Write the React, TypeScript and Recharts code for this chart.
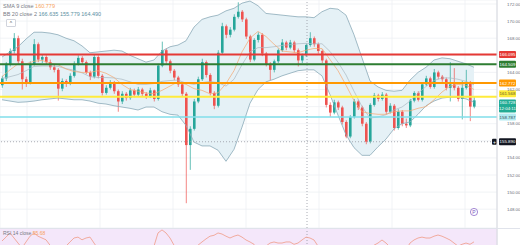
import React from "react";
import {
  Area,
  Bar,
  CartesianGrid,
  ComposedChart,
  Line,
  ReferenceArea,
  ReferenceLine,
  XAxis,
  YAxis,
} from "recharts";

const GREEN = "#26a69a";
const RED = "#ef5350";
const BAND = "#8aaab8";

// candles, one every bar index
const opens = [
  162.5, 163.3, 165.0, 166.5, 168.0, 165.3, 163.2, 162.8, 165.0, 167.3,
  165.5, 165.8, 165.2, 164.6, 164.3, 162.1, 163.0, 162.7, 163.6, 165.0,
  165.7, 165.2, 164.0, 163.5, 165.8, 163.6, 161.6, 162.2, 162.8, 161.8,
  160.6, 161.5, 161.0, 161.9, 161.4, 162.0, 161.5, 161.2, 161.9, 160.9,
  164.8, 166.6, 165.3, 164.2, 163.4, 162.6, 161.5, 155.5, 157.4, 160.6,
  163.2, 165.2, 163.7, 161.6, 160.1, 166.3, 169.4, 168.4, 169.0, 170.5,
  171.1, 170.2, 168.2, 165.5, 167.8, 168.4, 166.2, 165.0, 164.3, 165.3,
  166.6, 167.5, 166.9, 167.5, 166.6, 165.4, 166.0, 167.2, 168.0, 167.3,
  166.5, 165.4, 160.2, 159.3, 160.5, 159.9, 158.2, 156.5, 158.8, 160.6,
  159.9, 158.0, 155.9, 160.2, 161.3, 160.9, 161.4, 159.4, 160.1, 157.5,
  159.4, 158.0, 157.8, 160.7, 161.6, 160.8, 162.6, 163.3, 162.3, 164.0,
  163.5, 163.2, 162.2, 162.6, 162.2, 160.9, 162.2, 162.8, 160.0,
];
const highs = [
  163.6, 165.2, 166.8, 168.6, 168.3, 165.6, 163.5, 165.3, 167.9, 167.5,
  166.1, 166.0, 165.5, 164.9, 164.5, 163.3, 163.2, 163.9, 165.3, 166.0,
  165.9, 165.4, 164.2, 166.1, 166.0, 163.8, 162.5, 163.1, 163.0, 162.0,
  161.8, 161.7, 162.2, 162.1, 162.3, 162.2, 161.7, 162.2, 162.0, 165.0,
  167.6, 166.8, 165.5, 164.4, 163.6, 162.8, 161.7, 157.7, 160.9, 163.5,
  165.6, 165.4, 163.9, 161.8, 166.6, 169.8, 169.6, 169.3, 170.8, 172.2,
  171.3, 170.4, 168.4, 168.0, 168.7, 168.6, 166.4, 165.2, 165.5, 166.8,
  167.9, 167.7, 167.8, 167.7, 166.8, 166.2, 167.4, 168.7, 168.2, 167.5,
  166.7, 165.6, 160.5, 160.8, 160.7, 160.1, 158.4, 159.0, 160.9, 160.8,
  160.1, 158.2, 160.4, 161.6, 161.5, 161.7, 161.6, 160.4, 160.3, 159.7,
  159.6, 158.6, 160.9, 161.8, 161.8, 162.8, 163.6, 163.5, 164.4, 164.2,
  163.7, 163.4, 165.2, 164.5, 162.4, 163.0, 164.3, 163.0, 161.2,
];
const lows = [
  162.2, 163.0, 164.7, 166.2, 165.0, 162.0, 162.3, 162.6, 164.8, 165.2,
  165.1, 164.9, 164.3, 164.0, 160.7, 161.8, 162.3, 162.5, 163.4, 164.8,
  164.9, 163.8, 163.1, 163.3, 163.3, 161.3, 161.4, 162.0, 161.5, 159.4,
  160.3, 160.7, 160.8, 161.1, 161.2, 161.2, 160.9, 161.0, 160.6, 160.7,
  164.6, 165.0, 163.9, 163.1, 162.3, 161.2, 148.7, 152.6, 157.2, 160.4,
  163.0, 163.4, 161.3, 159.7, 159.9, 166.1, 168.0, 168.1, 168.8, 170.3,
  169.9, 167.9, 165.2, 165.3, 167.5, 165.9, 164.7, 163.1, 164.0, 165.1,
  166.4, 166.6, 166.7, 166.3, 164.7, 165.1, 165.8, 167.0, 167.0, 166.2,
  165.1, 159.9, 158.8, 159.1, 159.6, 157.9, 156.3, 156.3, 158.6, 159.6,
  157.7, 155.6, 155.7, 160.0, 160.6, 160.7, 159.1, 159.2, 157.2, 157.3,
  157.7, 157.5, 157.6, 160.5, 160.6, 160.6, 162.4, 162.1, 162.1, 163.2,
  162.9, 161.9, 160.6, 161.9, 160.6, 158.5, 162.0, 158.3, 159.8,
];
const closes = [
  163.3, 165.0, 166.5, 168.0, 165.3, 163.2, 162.8, 165.0, 167.3, 165.5,
  165.8, 165.2, 164.6, 164.3, 162.1, 163.0, 162.7, 163.6, 165.0, 165.7,
  165.2, 164.0, 163.5, 165.8, 163.6, 161.6, 162.2, 162.8, 161.8, 160.6,
  161.5, 161.0, 161.9, 161.4, 162.0, 161.5, 161.2, 161.9, 160.9, 164.8,
  166.6, 165.3, 164.2, 163.4, 162.6, 161.5, 155.5, 157.4, 160.6, 163.2,
  165.2, 163.7, 161.6, 160.1, 166.3, 169.4, 168.4, 169.0, 170.5, 171.1,
  170.2, 168.2, 165.5, 167.8, 168.4, 166.2, 165.0, 164.3, 165.3, 166.6,
  167.5, 166.9, 167.5, 166.6, 165.4, 166.0, 167.2, 168.0, 167.3, 166.5,
  165.4, 160.2, 159.3, 160.5, 159.9, 158.2, 156.5, 158.8, 160.6, 159.9,
  158.0, 155.9, 160.2, 161.3, 160.9, 161.4, 159.4, 160.1, 157.5, 159.4,
  158.0, 157.8, 160.7, 161.6, 160.8, 162.6, 163.3, 162.3, 164.0, 163.5,
  163.2, 162.2, 162.6, 162.2, 160.9, 162.2, 162.8, 160.0, 160.73,
];

// bollinger + sma, read every second bar
const bbUpper = [
  165.8, 166.4, 167.0, 167.9, 168.7, 168.7, 168.6, 168.4, 168.0, 167.7,
  167.1, 166.3, 166.4, 166.5, 166.6, 166.5, 166.0, 165.6, 165.2, 165.45,
  166.5, 167.0, 167.2, 167.7, 169.3, 170.2, 170.5, 170.7, 171.2, 171.5,
  172.1, 172.35, 171.8, 170.9, 170.8, 170.7, 170.6, 170.5, 170.5, 170.4,
  171.1, 171.5, 171.4, 170.7, 168.4, 165.7, 163.0, 162.3, 161.9, 161.8,
  161.9, 163.1, 164.0, 164.6, 165.45, 165.7, 165.6, 165.3, 165.0, 164.6,
];
const bbLower = [
  160.8, 160.65, 160.5, 160.55, 160.65, 160.8, 160.9, 161.0, 160.9, 160.8,
  160.8, 160.65, 160.4, 160.3, 160.1, 159.95, 159.8, 159.6, 159.95, 159.95,
  159.4, 159.1, 159.0, 157.8, 155.85, 155.4, 155.4, 154.9, 153.6, 155.0,
  157.6, 160.4, 162.0, 162.9, 163.2, 163.6, 163.9, 164.2, 164.3, 164.3,
  163.6, 161.4, 159.0, 156.7, 155.2, 154.3, 154.3, 155.3, 156.2, 157.4,
  158.0, 158.2, 159.1, 160.1, 160.65, 161.0, 161.1, 161.1, 160.9, 160.5,
];
const bbBasis = [
  163.3, 163.5, 163.75, 164.2, 164.7, 164.75, 164.75, 164.7, 164.45, 164.25,
  163.95, 163.5, 163.4, 163.4, 163.35, 163.2, 162.9, 162.6, 162.6, 162.7,
  162.95, 163.05, 163.1, 162.75, 162.6, 162.8, 162.95, 162.8, 162.4, 163.2,
  164.9, 166.4, 166.9, 166.9, 167.0, 167.15, 167.25, 167.35, 167.4, 167.35,
  167.35, 166.45, 165.2, 163.7, 161.8, 160.0, 158.65, 158.8, 159.05, 159.6,
  159.95, 160.65, 161.55, 162.35, 163.05, 163.35, 163.35, 163.2, 162.95, 162.55,
];
const sma9 = [
  163.5, 164.3, 165.0, 165.0, 165.3, 165.4, 165.1, 164.9, 164.4, 164.1,
  164.0, 164.0, 164.2, 163.9, 163.4, 162.6, 162.0, 161.8, 161.6, 161.5,
  161.9, 162.4, 162.9, 162.6, 162.1, 161.9, 161.5, 161.6, 162.7, 164.2,
  166.4, 168.0, 168.8, 168.2, 167.3, 166.5, 166.4, 166.3, 166.6, 166.8,
  166.8, 165.5, 164.2, 162.5, 160.7, 159.4, 159.2, 159.1, 159.1, 159.4,
  159.5, 159.5, 159.8, 160.0, 160.8, 161.7, 162.4, 162.6, 162.5, 162.0,
];

const rsi = [
  56.7, 61, 65.6, 60, 54.4, 49, 55.6, 62, 65.6, 62, 60, 58, 52, 49, 45, 48, 51,
  55.6, 60, 61, 58, 60, 61, 54.4, 48, 43, 42, 44, 41, 38, 42, 40, 43, 41, 44,
  42, 40, 49, 51, 65.6, 69, 65.6, 60, 52, 46, 42, 30, 40, 48, 52, 55.6, 59, 62,
  63, 65.6, 64.4, 62, 60, 62, 63.3, 61, 57.8, 55.6, 53, 46.7, 49, 51, 54.4,
  55.6, 54.4, 54.4, 55.6, 55.6, 53, 54.4, 57.8, 61, 60, 57.8, 51, 44, 35, 38,
  41, 39, 35, 32, 40, 44, 43, 40, 35, 46.7, 52, 54.4, 57.8, 54.4, 50, 44, 49,
  44, 46.7, 54.4, 57.8, 60, 61, 60, 60, 62, 63.3, 62, 60, 57.8, 54.4, 51, 53,
  54.4, 53, 55.7,
];

const priceTicks = [148, 150, 152, 154, 156, 158, 160, 162, 164, 166, 168, 170, 172];
const hiddenTicks = [156, 160, 166];
const timeGrid = [6.25, 24.5, 42.75, 61, 79.25, 97.5, 115.75];
const crossX = 76.25;

const rows = closes.map((c, i) => ({
  i,
  o: opens[i],
  h: highs[i],
  l: lows[i],
  c,
  range: [lows[i], highs[i]],
}));
const bandRows = bbUpper.map((u, k) => ({
  i: k * 2,
  band: [bbLower[k], u],
  upper: u,
  lower: bbLower[k],
  basis: bbBasis[k],
  sma: sma9[k],
}));
const rsiRows = rsi.map((v, i) => ({ i, v }));

const FONT = "'Liberation Sans', Arial, sans-serif";

function Candle(props: any) {
  const { x, y, width, height, payload } = props;
  if (payload == null || x == null) return null;
  const { o, h, l, c } = payload;
  const color = c >= o ? GREEN : RED;
  const top = Math.min(y, y + height);
  const hh = Math.abs(height);
  const px = (v: number) => top + ((h - v) / (h - l)) * hh;
  const b1 = px(Math.max(o, c));
  const b2 = px(Math.min(o, c));
  const cx = x + width / 2;
  return (
    <g>
      <line x1={cx} x2={cx} y1={top} y2={top + hh} stroke={color} strokeWidth={0.7} />
      <rect x={x} y={b1} width={width} height={Math.max(b2 - b1, 0.8)} fill={color} />
    </g>
  );
}

function PriceTick(props: any) {
  const { x, y, payload } = props;
  if (hiddenTicks.includes(payload.value)) return null;
  return (
    <text x={x + 2} y={y + 1.6} fontSize={4.4} fill="#6a6d78" fontFamily={FONT}>
      {payload.value.toFixed(3)}
    </text>
  );
}

function Tag(props: any) {
  const { viewBox, text, sub, bg, fg = "#fff", dy = 0, icon } = props;
  if (!viewBox) return null;
  const x = viewBox.x + viewBox.width + 2;
  const y = viewBox.y + dy;
  const h = sub ? 13 : 7;
  return (
    <g fontFamily={FONT}>
      {icon && (
        <g>
          <rect x={x - 7} y={y - 3} width={5} height={6} rx={1} fill="#131722" />
          <text x={x - 4.5} y={y + 2} fontSize={5} fill="#fff" textAnchor="middle">
            +
          </text>
        </g>
      )}
      <rect x={x} y={y - 3.5} width={17} height={h} rx={1} fill={bg} />
      <text x={x + 8.5} y={y + 1.6} fontSize={4.4} fill={fg} textAnchor="middle">
        {text}
      </text>
      {sub && (
        <text x={x + 8.5} y={y + 7.6} fontSize={4.4} fill={fg} textAnchor="middle">
          {sub}
        </text>
      )}
    </g>
  );
}

function RsiTick(props: any) {
  const { x, y, payload } = props;
  return (
    <text x={x + 2} y={y + 1.6} fontSize={4.4} fill="#6a6d78" fontFamily={FONT}>
      {payload.value.toFixed(2)}
    </text>
  );
}

export default function App() {
  return (
    <div
      style={{
        position: "absolute",
        left: 0,
        top: 0,
        width: 520,
        height: 245,
        overflow: "hidden",
        background: "#fff",
        fontFamily: FONT,
      }}
    >
      <div style={{ position: "absolute", left: 0, top: 0 }}>
        <ComposedChart width={520} height={228} data={rows} margin={{ top: 0, right: 0, bottom: 0, left: 0 }}>
          <CartesianGrid stroke="#eef0f4" strokeWidth={0.8} />
          <XAxis type="number" dataKey="i" domain={[-0.5, 123.75]} ticks={timeGrid} allowDataOverflow hide />
          <YAxis
            orientation="right"
            width={23}
            domain={[145.8, 172.47]}
            ticks={priceTicks}
            interval={0}
            allowDataOverflow
            tick={<PriceTick />}
            tickLine={false}
            axisLine={{ stroke: "#d6d8de" }}
          />
          <Area data={bandRows} dataKey="band" stroke="none" fill="#e5f1f6" fillOpacity={1} dot={false} activeDot={false} isAnimationActive={false} />
          <Line data={bandRows} dataKey="upper" stroke={BAND} strokeWidth={0.8} dot={false} activeDot={false} isAnimationActive={false} />
          <Line data={bandRows} dataKey="lower" stroke={BAND} strokeWidth={0.8} dot={false} activeDot={false} isAnimationActive={false} />
          <Line data={bandRows} dataKey="basis" stroke="#aab9c1" strokeWidth={0.7} dot={false} activeDot={false} isAnimationActive={false} />
          <Line data={bandRows} dataKey="sma" stroke="#f5a66f" strokeWidth={0.7} dot={false} activeDot={false} isAnimationActive={false} />
          <ReferenceLine y={166.095} stroke="#e53935" strokeWidth={2} label={<Tag text="166.095" bg="#e53935" />} />
          <ReferenceLine y={164.95} stroke="#2e7d32" strokeWidth={2} label={<Tag text="164.509" bg="#2e7d32" />} />
          <ReferenceLine y={162.772} stroke="#ff9800" strokeWidth={2} label={<Tag text="162.772" bg="#ff9800" />} />
          <ReferenceLine y={161.15} stroke="#ffeb3b" strokeWidth={2} label={<Tag text="161.568" bg="#ffeb3b" fg="#5d5a2a" dy={-3} />} />
          <ReferenceLine y={158.787} stroke="#80deea" strokeWidth={1.5} label={<Tag text="158.787" bg="#b2ebf2" fg="#37474f" />} />
          <ReferenceLine y={155.89} stroke="#9598a1" strokeWidth={0.8} strokeDasharray="1 2" label={<Tag text="155.890" bg="#131722" icon />} />
          <ReferenceLine x={crossX} stroke="#9598a1" strokeWidth={0.8} strokeDasharray="1 2" />
          <Bar dataKey="range" barSize={2.6} shape={<Candle />} isAnimationActive={false} />
          <ReferenceLine y={160.728} stroke="none" label={<Tag text="160.728" sub="12:04:11" bg="#22ab94" dy={2.5} />} />
        </ComposedChart>
      </div>

      <div style={{ position: "absolute", left: 0, top: 228, width: 520, height: 1, background: "#e0e3eb" }} />

      <div style={{ position: "absolute", left: 0, top: 229 }}>
        <ComposedChart width={520} height={54} data={rsiRows} margin={{ top: 0, right: 0, bottom: 0, left: 0 }}>
          <XAxis type="number" dataKey="i" domain={[-0.5, 123.75]} ticks={timeGrid} allowDataOverflow hide />
          <YAxis
            orientation="right"
            width={23}
            domain={[10, 70]}
            ticks={[60]}
            allowDataOverflow
            tick={<RsiTick />}
            tickLine={false}
            axisLine={{ stroke: "#d6d8de" }}
          />
          <ReferenceArea y1={30} y2={70} fill="#f4e7fa" fillOpacity={1} stroke="none" />
          <CartesianGrid stroke="#ece6f2" strokeWidth={0.8} horizontal={false} />
          <ReferenceLine x={crossX} stroke="#9598a1" strokeWidth={0.8} strokeDasharray="1 2" />
          <Line dataKey="v" stroke="#f09a86" strokeWidth={0.8} dot={false} activeDot={false} isAnimationActive={false} />
        </ComposedChart>
      </div>

      <div style={{ position: "absolute", left: 3, top: 2, fontSize: 5.5, color: "#787b86", lineHeight: "8px", whiteSpace: "pre" }}>
        <div>
          SMA 9 close <span style={{ color: "#f7a35c" }}>160.779</span>
        </div>
        <div>
          BB 20 close 2 <span style={{ color: "#5c8fa3" }}>166.635 155.779 164.490</span>
        </div>
      </div>
      <div
        style={{
          position: "absolute",
          left: 6,
          top: 19,
          width: 8,
          height: 6,
          border: "0.5px solid #d1d4dc",
          borderRadius: 1,
          fontSize: 5,
          lineHeight: "6px",
          textAlign: "center",
          color: "#555",
          background: "#fff",
        }}
      >
        ^
      </div>
      <div style={{ position: "absolute", left: 3, top: 230, fontSize: 5, color: "#787b86", whiteSpace: "pre" }}>
        RSI 14 close <span style={{ color: "#f7a35c" }}>55.68</span>
      </div>
      <svg style={{ position: "absolute", left: 469, top: 207 }} width={10} height={10}>
        <circle cx={5} cy={5} r={3.6} fill="#fff" stroke="#7e57c2" strokeWidth={0.7} />
        <text x={5} y={6.8} fontSize={5} fill="#7e57c2" textAnchor="middle" fontFamily={FONT}>
          P
        </text>
      </svg>
    </div>
  );
}
